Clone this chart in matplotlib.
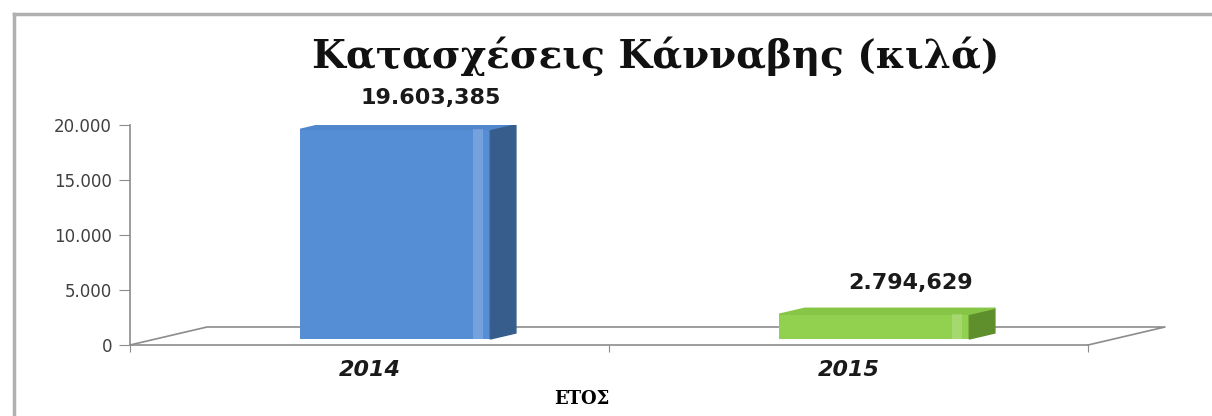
import matplotlib.pyplot as plt
from matplotlib.patches import Polygon
from matplotlib.lines import Line2D

# data
years = ['2014', '2015']
seizures_kg = [19603.385, 2794.629]
y_ticks = [0, 5000, 10000, 15000, 20000]
title = 'Κατασχέσεις Κάνναβης (κιλά)'
x_title = 'ΕΤΟΣ'

front_colors = ['#558ed5', '#92d050']
side_colors = ['#375d8c', '#5f8f2d']
top_colors = ['#4f86cc', '#86c545']


def greek_fmt(v, dec=0):
    s = f'{v:,.{dec}f}'
    return s.replace(',', 'X').replace('.', ',').replace('X', '.')


fig = plt.figure(figsize=(12.12, 4.16), dpi=100)
W, H = 1212, 416
ax = fig.add_axes([130 / W, 71 / H, (1088 - 130) / W, 220 / H])
ax.set_xlim(0, 2)
ax.set_ylim(0, 20000)

# 3d depth of the floor, in data units
dx = 77 / 479
dy = 18 / 220 * 20000
gray = '#8c8c8c'

# floor outline
ax.plot([0, dx, 2 + dx, 2], [0, dy, dy, 0], color=gray, lw=1.2, clip_on=False, zorder=1)

bw = 0.397
for i, v in enumerate(seizures_kg):
    x0 = i + 0.5 + dx / 3 - bw / 2
    y0 = dy / 3
    ox, oy = dx / 3, dy / 3
    # front face
    ax.bar(x0, v - y0, bottom=y0, width=bw, align='edge', color=front_colors[i], zorder=3)
    # light strip near the right edge
    ax.bar(x0 + bw - 0.035, v - y0, bottom=y0, width=0.02, align='edge',
           color='white', alpha=0.18, lw=0, zorder=4)
    # side face
    ax.add_patch(Polygon([(x0 + bw, y0), (x0 + bw + ox, y0 + oy), (x0 + bw + ox, v + oy), (x0 + bw, v)],
                         closed=True, color=side_colors[i], zorder=3))
    # top face
    ax.add_patch(Polygon([(x0, v), (x0 + ox, v + oy), (x0 + bw + ox, v + oy), (x0 + bw, v)],
                         closed=True, color=top_colors[i], zorder=3))
    ax.annotate(greek_fmt(v, 3), (x0 + bw / 2 + 0.075, v + 2 * oy), xytext=(0, 7),
                textcoords='offset points', ha='center', va='bottom',
                fontsize=16, fontweight='bold', color='#1a1a1a', annotation_clip=False)

for s in ['top', 'right']:
    ax.spines[s].set_visible(False)
for s in ['left', 'bottom']:
    ax.spines[s].set_color(gray)
    ax.spines[s].set_linewidth(1.2)

ax.set_yticks(y_ticks)
ax.set_yticklabels([greek_fmt(t) for t in y_ticks])
ax.tick_params(axis='y', length=8, color=gray, labelsize=12, labelcolor='#404040', pad=5)
ax.set_xticks([0, 1, 2])
ax.set_xticklabels(['', '', ''])
ax.tick_params(axis='x', length=5, color=gray, direction='out')
ax.set_xticks([0.5, 1.5], minor=True)
ax.set_xticklabels(years, minor=True, fontsize=16, fontweight='bold', style='italic', color='#1a1a1a')
ax.tick_params(axis='x', which='minor', length=0, pad=11)

ax.set_xlabel(x_title, family='DejaVu Serif', fontsize=13, fontweight='bold', labelpad=6)
ax.xaxis.set_label_coords((582 - 130) / 958, -0.205)

fig.text(656 / W, 1 - 56 / H, title, family='DejaVu Serif', fontsize=28, fontweight='bold',
         ha='center', va='center', color='#111111')

# chart border
fig.add_artist(Line2D([14 / W, 14 / W], [0, 1 - 14 / H], color='#b0b0b0', lw=2.5))
fig.add_artist(Line2D([14 / W, 1], [1 - 14 / H, 1 - 14 / H], color='#b0b0b0', lw=2.5))

fig.savefig('out.png', dpi=100)
